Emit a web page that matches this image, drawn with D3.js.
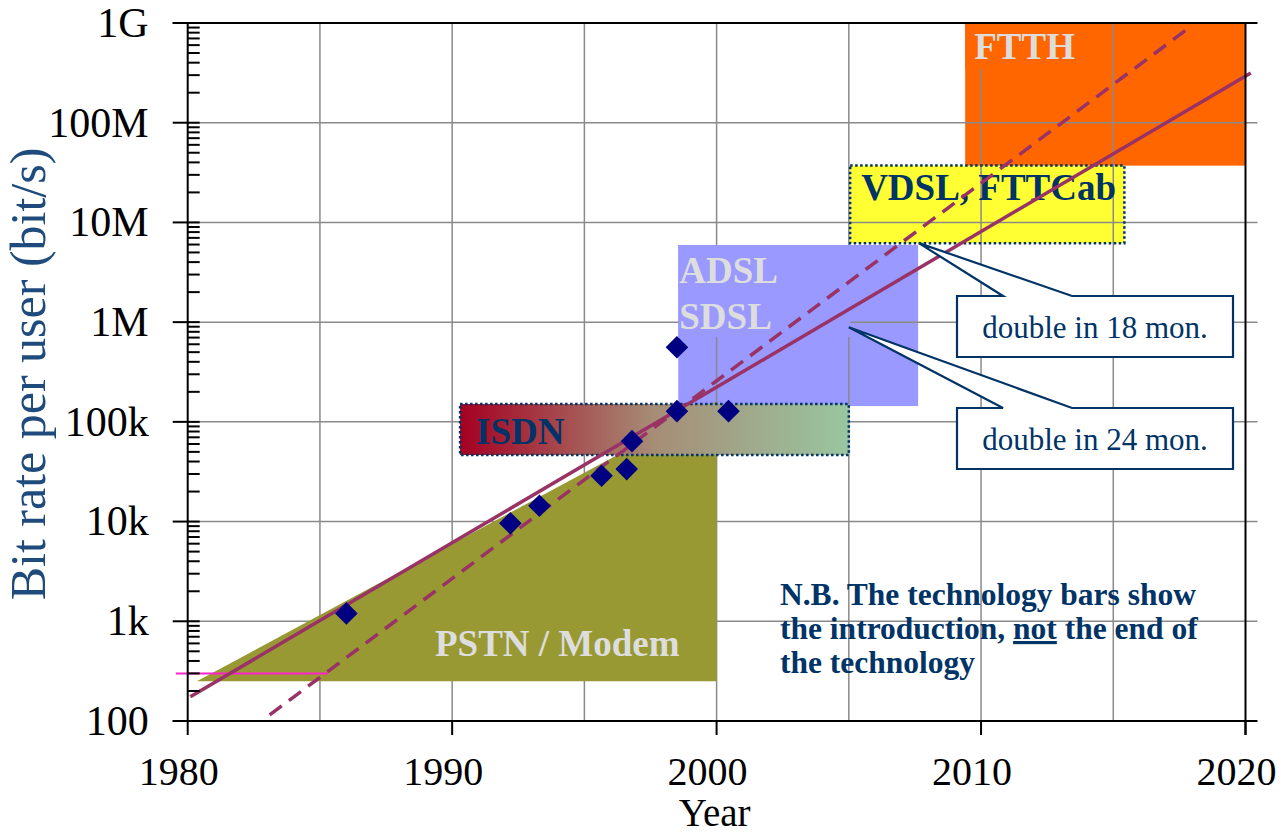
<!DOCTYPE html>
<html><head><meta charset="utf-8">
<script src="https://cdn.jsdelivr.net/npm/d3@7"></script>
<style>
html,body{margin:0;padding:0;background:#fff;}
svg{display:block;font-family:"Liberation Serif","Times New Roman",serif;}
</style></head>
<body>
<svg id="chart" width="1285" height="834"></svg>
<script>
// ---------- data ----------
const yearTicks = [1980, 1990, 2000, 2010, 2020];
const yearGrid = [1985, 1990, 1995, 2000, 2005, 2010, 2015];
const rateTicks = [100, 1e3, 1e4, 1e5, 1e6, 1e7, 1e8, 1e9];
const rateTickLabels = ["100", "1k", "10k", "100k", "1M", "10M", "100M", "1G"];

// measured modem / access bit rates
const measuredYears = [1986, 1992.2, 1993.3, 1995.65, 1996.6, 1996.8, 1998.5, 1998.5, 2000.45];
const measuredRates = [1200, 9600, 14400, 28800, 33600, 64000, 128000, 560000, 128000];

// trend lines
const trend24Years = [1980.1, 2020.2];
const trend24Rates = [175, 3.16e8];
const trend18Years = [1983.1, 2017.8];
const trend18Rates = [115, 8.7e8];
const refLineYears = [1979.55, 1985.3];
const refLineRates = [300, 300];

// technology bars
const techNames = ["ISDN", "ADSL|SDSL", "VDSL, FTTCab", "FTTH"];
const techStart = [1990.3, 1998.55, 2005.05, 2009.4];
const techEnd = [2005.0, 2007.62, 2015.42, 2020];
const techLow = [46500, 144000, 6.2e6, 37.1e6];
const techHigh = [151000, 5.94e6, 37.2e6, 1e9];

// PSTN / Modem area
const pstnYears = [1980.35, 2000, 2000];
const pstnRates = [250, 160000, 250];

// annotations
const calloutTexts = ["double in 18 mon.", "double in 24 mon."];
const calloutTipYears = [2007.65, 2005.0];
const calloutTipRates = [6.2e6, 8.9e5];
const noteLines = [["N.B. The technology bars show"], ["the introduction, ", "not", " the end of"], ["the technology"]];

// ---------- setup ----------
const svg = d3.select("#chart");
const x = d3.scaleLinear().domain([1980, 2020]).range([187.7, 1245.5]);
const y = d3.scaleLog().domain([100, 1e9]).range([721, 23]);
const X0 = x(1980), X1 = x(2020), Y0 = y(100), Y1 = y(1e9);
const navy = "#003366";
const lineCol = "#993366";

const defs = svg.append("defs");
const grad = defs.append("linearGradient").attr("id", "isdnGrad").attr("x1", "0").attr("x2", "1").attr("y1", "0").attr("y2", "0");
grad.append("stop").attr("offset", "0").attr("stop-color", "#A50021");
grad.append("stop").attr("offset", "0.5").attr("stop-color", "#A68D76");
grad.append("stop").attr("offset", "1").attr("stop-color", "#99C6A0");

const techFill = ["url(#isdnGrad)", "#9999FF", "#FFFF33", "#FF6600"];
const techText = [navy, "#DDDDDD", navy, "#DDDDDD"];
const rectOf = i => ({x: x(techStart[i]), y: y(techHigh[i]), w: x(techEnd[i]) - x(techStart[i]), h: y(techLow[i]) - y(techHigh[i])});

// ---------- layer 1: bars below grid (ADSL, VDSL, FTTH) ----------
const under = svg.append("g");
[1, 2, 3].forEach(i => {
  const r = rectOf(i);
  under.append("rect").attr("x", r.x).attr("y", r.y).attr("width", r.w).attr("height", r.h).attr("fill", techFill[i]);
});

// ---------- grid ----------
const grid = svg.append("g").attr("stroke", "#8a8a8a").attr("stroke-width", 1.5);
grid.selectAll("line.v").data(yearGrid).join("line")
  .attr("x1", d => x(d)).attr("x2", d => x(d)).attr("y1", Y1).attr("y2", Y0);
grid.selectAll("line.h").data(rateTicks.slice(1, -1)).join("line")
  .attr("x1", X0).attr("x2", X1 + 12).attr("y1", d => y(d)).attr("y2", d => y(d));

// text backgrounds covering grid (FTTH, ADSL)
{
  const r3 = rectOf(3);
  svg.append("rect").attr("x", r3.x).attr("y", r3.y + 1).attr("width", 125).attr("height", 45).attr("fill", techFill[3]);
  const r1 = rectOf(1);
  svg.append("rect").attr("x", r1.x).attr("y", r1.y).attr("width", 172).attr("height", 92).attr("fill", techFill[1]);
}

// ---------- PSTN area ----------
svg.append("polygon")
  .attr("points", pstnYears.map((d, i) => [x(d), y(pstnRates[i])].join(",")).join(" "))
  .attr("fill", "#999933");

// ---------- ISDN bar ----------
{
  const r = rectOf(0);
  svg.append("rect").attr("x", r.x).attr("y", r.y).attr("width", r.w).attr("height", r.h)
    .attr("fill", techFill[0]).attr("stroke", navy).attr("stroke-width", 2.5).attr("stroke-dasharray", "2.5,2.5");
  const r2 = rectOf(2);
  svg.append("rect").attr("x", r2.x).attr("y", r2.y).attr("width", r2.w).attr("height", r2.h)
    .attr("fill", "none").attr("stroke", navy).attr("stroke-width", 2.5).attr("stroke-dasharray", "2.5,2.5");
}

// ---------- bar labels ----------
const lab = svg.append("g").attr("font-weight", "bold").attr("font-size", 37);
{
  let r = rectOf(0);
  lab.append("text").attr("x", r.x + 16).attr("y", r.y + 40).attr("fill", techText[0]).text(techNames[0]);
  r = rectOf(1);
  techNames[1].split("|").forEach((t, k) => {
    lab.append("text").attr("x", r.x + 1).attr("y", r.y + 38 + k * 46).attr("fill", techText[1]).text(t);
  });
  r = rectOf(2);
  lab.append("text").attr("x", r.x + 11).attr("y", r.y + 34).attr("font-size", 37).attr("fill", techText[2]).text(techNames[2]);
  r = rectOf(3);
  lab.append("text").attr("x", r.x + 9).attr("y", r.y + 36).attr("fill", techText[3]).text(techNames[3]);
  lab.append("text").attr("x", x(1989.35)).attr("y", 656).attr("fill", "#DDDDDD").text("PSTN / Modem");
}

// ---------- lines ----------
const line = d3.line().x(d => x(d[0])).y(d => y(d[1]));
svg.append("path").attr("d", line(refLineYears.map((d, i) => [d, refLineRates[i]])))
  .attr("stroke", "#FF22CC").attr("stroke-width", 2).attr("fill", "none");
svg.append("path").attr("d", line(trend24Years.map((d, i) => [d, trend24Rates[i]])))
  .attr("stroke", lineCol).attr("stroke-width", 3.5).attr("fill", "none");
svg.append("path").attr("d", line(trend18Years.map((d, i) => [d, trend18Rates[i]])))
  .attr("stroke", lineCol).attr("stroke-width", 3.5).attr("stroke-dasharray", "15,9").attr("fill", "none");

// ---------- diamonds ----------
const sym = d3.symbol().type(d3.symbolSquare).size(16 * 16);
svg.append("g").selectAll("path").data(measuredYears.map((d, i) => [d, measuredRates[i]])).join("path")
  .attr("d", sym)
  .attr("transform", d => `translate(${x(d[0])},${y(d[1])}) rotate(45)`)
  .attr("fill", "#000080");

// ---------- axes ----------
const ax = svg.append("g").attr("stroke", "#000").attr("stroke-width", 2);
ax.append("line").attr("x1", X0).attr("x2", X0).attr("y1", Y1).attr("y2", Y0);
ax.append("line").attr("x1", X0 - 15).attr("x2", X1 + 12).attr("y1", Y0).attr("y2", Y0);
ax.append("line").attr("x1", X0 - 15).attr("x2", X1 + 12).attr("y1", Y1).attr("y2", Y1);
ax.append("line").attr("x1", X1).attr("x2", X1).attr("y1", Y1).attr("y2", Y0 + 14);
// major y ticks
ax.selectAll("line.my").data(rateTicks).join("line")
  .attr("x1", X0 - 15).attr("x2", X0 + 12).attr("y1", d => y(d)).attr("y2", d => y(d));
// minor y ticks
const minor = [];
rateTicks.slice(0, -1).forEach(b => { for (let k = 2; k <= 9; k++) minor.push(b * k); });
ax.selectAll("line.mn").data(minor).join("line")
  .attr("x1", X0).attr("x2", X0 + 12).attr("y1", d => y(d)).attr("y2", d => y(d));
// x ticks
ax.selectAll("line.xt").data(yearTicks).join("line")
  .attr("x1", d => x(d)).attr("x2", d => x(d)).attr("y1", Y0).attr("y2", Y0 + 14);

const tl = svg.append("g").attr("fill", "#000");
tl.selectAll("text.y").data(rateTicks).join("text")
  .attr("font-size", 42)
  .attr("x", X0 - 39).attr("y", d => y(d)).attr("dy", "0.33em").attr("text-anchor", "end")
  .text((d, i) => rateTickLabels[i]);
tl.selectAll("text.x").data(yearTicks).join("text")
  .attr("font-size", 40)
  .attr("x", d => x(d) - 9).attr("y", 785).attr("text-anchor", "middle").text(d => d);
svg.append("text").attr("x", (X0 + X1) / 2 - 2).attr("y", 826).attr("text-anchor", "middle")
  .attr("font-size", 39).text("Year");
svg.append("text").attr("transform", "translate(45,374) rotate(-90)").attr("text-anchor", "middle")
  .attr("font-size", 50).attr("fill", "#1F4B7C").text("Bit rate per user (bit/s)");

// ---------- callouts ----------
const boxX = 957, boxW = 276, boxH = 61;
const boxYs = [296, 408];
calloutTexts.forEach((t, i) => {
  const g = svg.append("g");
  const by = boxYs[i];
  const tx = x(calloutTipYears[i]), ty = y(calloutTipRates[i]);
  g.append("path")
    .attr("d", `M${boxX},${by} L${boxX + 46},${by} L${tx},${ty} L${boxX + 115},${by} L${boxX + boxW},${by} L${boxX + boxW},${by + boxH} L${boxX},${by + boxH} Z`)
    .attr("fill", "#fff").attr("stroke", navy).attr("stroke-width", 2.2).attr("stroke-linejoin", "miter");
  g.append("text").attr("x", boxX + boxW / 2).attr("y", by + 42).attr("text-anchor", "middle")
    .attr("font-size", 31).attr("fill", navy).text(t);
});

// ---------- note ----------
const note = svg.append("text").attr("font-size", 31.5).attr("font-weight", "bold").attr("fill", navy);
noteLines.forEach((parts, i) => {
  parts.forEach((p, k) => {
    const ts = note.append("tspan").text(p);
    if (k === 0) ts.attr("x", 780).attr("y", 605 + i * 34);
    if (p === "not") ts.attr("text-decoration", "underline");
  });
});
</script>
</body></html>
